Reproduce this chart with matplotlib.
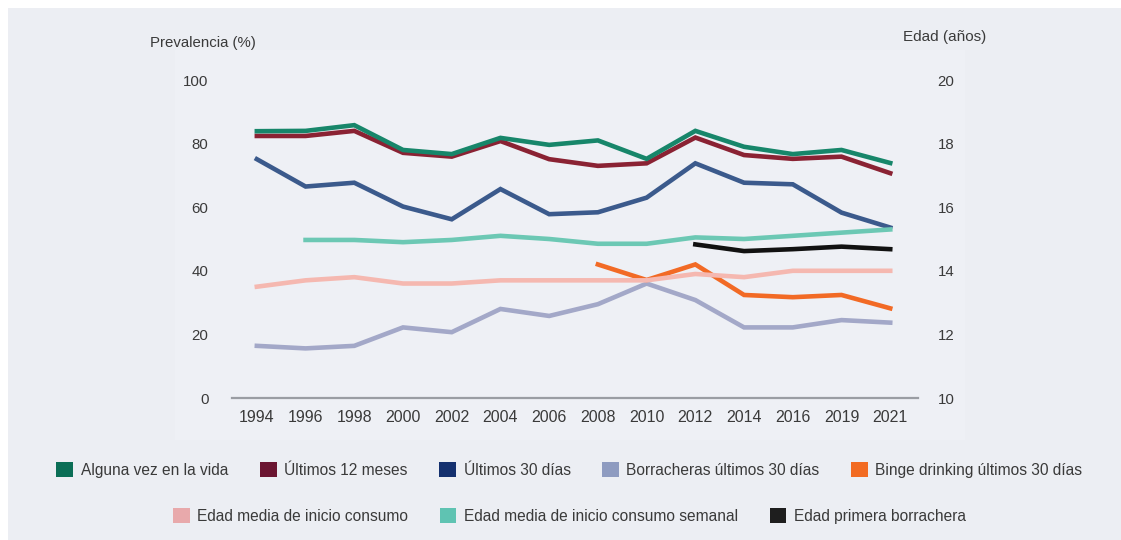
import matplotlib
matplotlib.use('Agg')
import matplotlib.pyplot as plt
from matplotlib.patches import Patch, Rectangle

plt.rcParams['font.family'] = ['Liberation Sans', 'DejaVu Sans']

years = ['1994', '1996', '1998', '2000', '2002', '2004', '2006', '2008', '2010',
         '2012', '2014', '2016', '2019', '2021']

# prevalencias (%) - eje izquierdo
alguna_vez = [83.9, 84.0, 85.8, 78.0, 76.7, 81.8, 79.6, 81.0, 75.2, 84.0, 79.0, 76.7, 78.0, 73.9]
ult_12_meses = [82.4, 82.4, 84.0, 77.1, 75.9, 80.8, 75.1, 73.0, 73.8, 81.9, 76.4, 75.2, 75.9, 70.7]
ult_30_dias = [75.1, 66.5, 67.7, 60.2, 56.2, 65.7, 57.8, 58.4, 63.0, 73.8, 67.7, 67.2, 58.3, 53.6]
borracheras = [16.4, 15.6, 16.4, 22.2, 20.7, 28.0, 25.8, 29.5, 36.0, 30.8, 22.2, 22.2, 24.5, 23.7]
binge_years = ['2008', '2010', '2012', '2014', '2016', '2019', '2021']
binge = [42.0, 37.1, 42.0, 32.4, 31.7, 32.4, 28.2]

# edades (años) - eje derecho
edad_inicio = [13.5, 13.7, 13.8, 13.6, 13.6, 13.7, 13.7, 13.7, 13.7, 13.9, 13.8, 14.0, 14.0, 14.0]
semanal_years = years[1:]
edad_semanal = [14.97, 14.97, 14.9, 14.97, 15.1, 15.0, 14.85, 14.85, 15.05, 15.0, 15.1, 15.2, 15.3]
borr_years = ['2012', '2014', '2016', '2019', '2021']
edad_borrachera = [14.83, 14.62, 14.68, 14.76, 14.68]

col_alguna = '#17866a'
col_12 = '#8a2233'
col_30 = '#3b5a8c'
col_borr = '#a3a8c8'
col_binge = '#f26a25'
col_inicio = '#f5b8b0'
col_semanal = '#6cc8b4'
col_primera = '#111111'

fig = plt.figure(figsize=(11.21, 5.40), dpi=100, facecolor='white')
fig.patches.append(Rectangle((8 / 1121, 0), 1, 1 - 8 / 540, transform=fig.transFigure,
                             facecolor='#eceef3', edgecolor='none', zorder=-10))
fig.patches.append(Rectangle((175 / 1121, 1 - 440 / 540), 790 / 1121, 390 / 540,
                             transform=fig.transFigure, facecolor='#eef0f5',
                             edgecolor='none', zorder=-9))

ax = fig.add_axes([232 / 1121, 1 - 398 / 540, 686 / 1121, 318 / 540])
ax.set_facecolor('none')
ax2 = ax.twinx()
ax2.set_facecolor('none')

x = list(range(len(years)))
xi = {y: i for i, y in enumerate(years)}
lw = 3.3

ax.plot(x, borracheras, color=col_borr, lw=lw, solid_joinstyle='miter')
ax.plot([xi[y] for y in binge_years], binge, color=col_binge, lw=lw, solid_joinstyle='miter')
ax.plot(x, ult_30_dias, color=col_30, lw=lw, solid_joinstyle='miter')
ax.plot(x, ult_12_meses, color=col_12, lw=lw, solid_joinstyle='miter')
ax.plot(x, alguna_vez, color=col_alguna, lw=lw, solid_joinstyle='miter')

ax2.plot(x, edad_inicio, color=col_inicio, lw=lw, solid_joinstyle='miter')
ax2.plot([xi[y] for y in semanal_years], edad_semanal, color=col_semanal, lw=lw, solid_joinstyle='miter')
ax2.plot([xi[y] for y in borr_years], edad_borrachera, color=col_primera, lw=lw, solid_joinstyle='miter')

ax.set_xlim(-0.51, 13.57)
ax.set_ylim(0, 100)
ax2.set_ylim(10, 20)
ax.set_xticks(x)
ax.set_xticklabels(years)
ax.set_yticks([0, 20, 40, 60, 80, 100])
ax2.set_yticks([10, 12, 14, 16, 18, 20])

for a in (ax, ax2):
    for s in a.spines.values():
        s.set_visible(False)
ax.spines['bottom'].set_visible(True)
ax.spines['bottom'].set_color('#9a9da3')
ax.spines['bottom'].set_linewidth(1.6)

txt = '#3a3a3a'
ax.tick_params(axis='x', length=0, pad=9, labelsize=11.5, labelcolor=txt)
ax.tick_params(axis='y', length=0, pad=17, labelsize=10.8, labelcolor=txt)
ax2.tick_params(axis='y', length=0, pad=14, labelsize=10.8, labelcolor=txt)

fig.text(150 / 1121, 1 - 43 / 540, 'Prevalencia (%)', fontsize=10.8, color=txt,
         ha='left', va='center')
fig.text(903 / 1121, 1 - 37 / 540, 'Edad (años)', fontsize=11, color=txt,
         ha='left', va='center')

row1 = [
    Patch(facecolor='#0b6e56', label='Alguna vez en la vida'),
    Patch(facecolor='#6b1531', label='Últimos 12 meses'),
    Patch(facecolor='#14306e', label='Últimos 30 días'),
    Patch(facecolor='#8e9bc0', label='Borracheras últimos 30 días'),
    Patch(facecolor='#f26b22', label='Binge drinking últimos 30 días'),
]
row2 = [
    Patch(facecolor='#e8a9ab', label='Edad media de inicio consumo'),
    Patch(facecolor='#5fc3b2', label='Edad media de inicio consumo semanal'),
    Patch(facecolor='#1e1e1e', label='Edad primera borrachera'),
]
leg_kw = dict(loc='center', frameon=False, fontsize=11.2, handlelength=1.09,
              handleheight=1.09, handletextpad=0.5, columnspacing=2.0,
              labelcolor=txt, borderaxespad=0, borderpad=0)
fig.legend(handles=row1, ncol=5, bbox_to_anchor=(0.508, 1 - 470 / 540), **leg_kw)
fig.legend(handles=row2, ncol=3, bbox_to_anchor=(0.508, 1 - 516 / 540), **leg_kw)

fig.savefig('out.png', dpi=100, facecolor=fig.get_facecolor())
